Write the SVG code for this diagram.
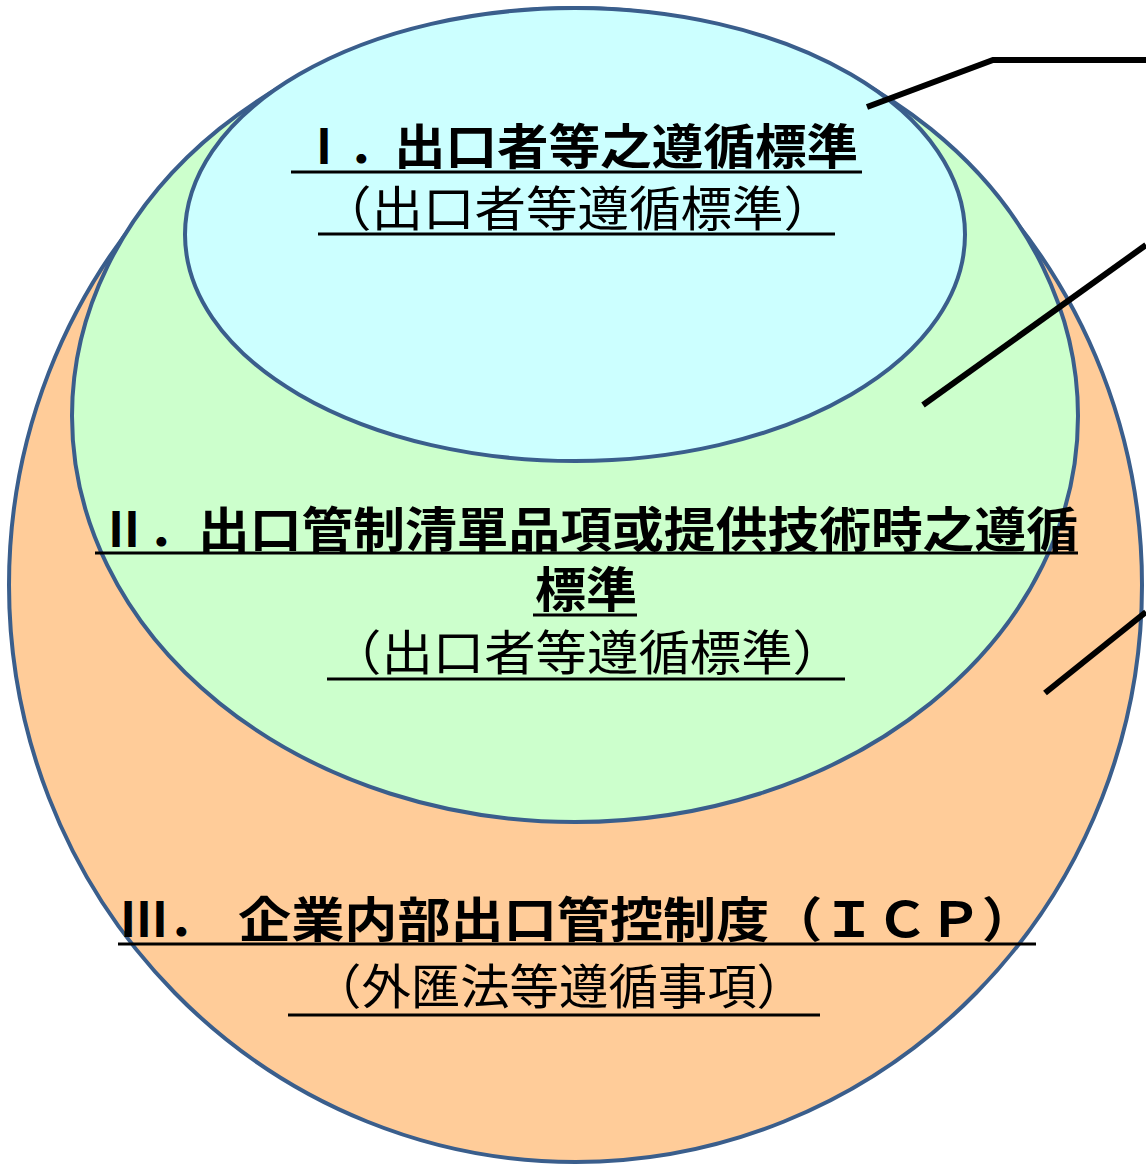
<svg xmlns="http://www.w3.org/2000/svg" width="1146" height="1167" viewBox="0 0 1146 1167">
<style>
.ring{stroke:#3A5E8C;stroke-width:4}
.b{font-family:"Noto Sans CJK JP","Noto Sans CJK TC",sans-serif;font-weight:bold;font-size:48px;fill:#000}
.r{font-family:"Noto Sans CJK JP","Noto Sans CJK TC",sans-serif;font-weight:normal;font-size:48px;fill:#000}
.ul{stroke:#000;stroke-width:3}
.lead{stroke:#000;stroke-width:6;fill:none}
</style>
<rect width="1146" height="1167" fill="#fff"/>
<g id="node3">
<ellipse class="ring" cx="575.5" cy="585" rx="566.5" ry="577" fill="#FFCC99"/>
</g>
<g id="node2">
<ellipse class="ring" cx="575" cy="416" rx="503" ry="406" fill="#CCFFCC"/>
</g>
<g id="node1">
<ellipse class="ring" cx="575" cy="234.5" rx="390" ry="226.5" fill="#CCFFFF"/>
</g>
<g id="labels1">
<text class="b" x="300" y="164">Ⅰ．</text>
<text class="b" x="394" y="164" textLength="464" lengthAdjust="spacingAndGlyphs">出口者等之遵循標準</text>
<line class="ul" x1="291" y1="172" x2="862" y2="172"/>
<text class="r" x="320" y="226" textLength="515" lengthAdjust="spacingAndGlyphs">（出口者等遵循標準）</text>
<line class="ul" x1="318" y1="234" x2="835" y2="234"/>
</g>
<g id="labels2">
<text class="b" x="100" y="547">Ⅱ．</text>
<text class="b" x="198" y="547" textLength="880" lengthAdjust="spacingAndGlyphs">出口管制清單品項或提供技術時之遵循</text>
<line class="ul" x1="95" y1="553" x2="1078" y2="553"/>
<text class="b" x="535" y="607" textLength="102" lengthAdjust="spacingAndGlyphs">標準</text>
<line class="ul" x1="533" y1="615" x2="637" y2="615"/>
<text class="r" x="330" y="670" textLength="514" lengthAdjust="spacingAndGlyphs">（出口者等遵循標準）</text>
<line class="ul" x1="327" y1="679" x2="845" y2="679"/>
</g>
<g id="labels3">
<text class="b" x="120" y="937">Ⅲ．</text>
<text class="b" x="238" y="937" textLength="797" lengthAdjust="spacingAndGlyphs">企業内部出口管控制度（ＩＣＰ）</text>
<line class="ul" x1="118" y1="944" x2="1036" y2="944"/>
<text class="r" x="312" y="1004" textLength="494" lengthAdjust="spacingAndGlyphs">（外匯法等遵循事項）</text>
<line class="ul" x1="288" y1="1015" x2="820" y2="1015"/>
</g>
<g id="connectors">
<polyline class="lead" points="867,107 993,60 1146,60"/>
<line class="lead" x1="923" y1="405" x2="1146" y2="245"/>
<line class="lead" x1="1045" y1="693" x2="1146" y2="612"/>
</g>
</svg>
